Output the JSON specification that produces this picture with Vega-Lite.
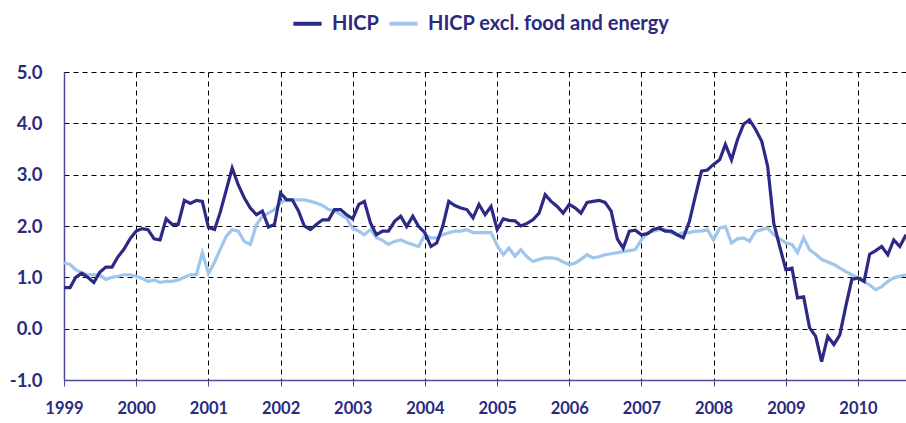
{
  "$schema": "https://vega.github.io/schema/vega-lite/v6.json",
  "width": 842,
  "height": 308,
  "autosize": {"type": "none"},
  "padding": {"left": 64, "top": 72, "right": 0, "bottom": 43},
  "background": "white",
  "config": {
    "view": {"stroke": null},
    "font": "Lato",
    "axis": {
      "labelFont": "Lato",
      "labelFontWeight": "bold",
      "labelFontSize": 16,
      "labelColor": "#2b2a7e",
      "gridColor": "#000000",
      "gridDash": [5, 4],
      "gridWidth": 1,
      "gridOpacity": 1,
      "domainColor": "#4a4aa0",
      "domainWidth": 1.5,
      "tickColor": "#4a4aa0",
      "title": null
    }
  },
  "data": {
    "values": [
      {"d":"1999-01-01","hicp":0.8,"core":1.28},{"d":"1999-02-01","hicp":0.8,"core":1.25},{"d":"1999-03-01","hicp":1.0,"core":1.15},{"d":"1999-04-01","hicp":1.08,"core":1.09},{"d":"1999-05-01","hicp":1.0,"core":1.05},{"d":"1999-06-01","hicp":0.9,"core":1.05},{"d":"1999-07-01","hicp":1.1,"core":1.05},{"d":"1999-08-01","hicp":1.2,"core":0.96},{"d":"1999-09-01","hicp":1.2,"core":1.0},{"d":"1999-10-01","hicp":1.4,"core":1.02},{"d":"1999-11-01","hicp":1.55,"core":1.05},{"d":"1999-12-01","hicp":1.75,"core":1.05},
      {"d":"2000-01-01","hicp":1.9,"core":1.02},{"d":"2000-02-01","hicp":1.95,"core":0.98},{"d":"2000-03-01","hicp":1.93,"core":0.92},{"d":"2000-04-01","hicp":1.75,"core":0.95},{"d":"2000-05-01","hicp":1.73,"core":0.9},{"d":"2000-06-01","hicp":2.14,"core":0.92},{"d":"2000-07-01","hicp":2.03,"core":0.92},{"d":"2000-08-01","hicp":2.03,"core":0.95},{"d":"2000-09-01","hicp":2.5,"core":1.0},{"d":"2000-10-01","hicp":2.44,"core":1.05},{"d":"2000-11-01","hicp":2.5,"core":1.05},{"d":"2000-12-01","hicp":2.48,"core":1.48},
      {"d":"2001-01-01","hicp":1.97,"core":1.07},{"d":"2001-02-01","hicp":1.93,"core":1.3},{"d":"2001-03-01","hicp":2.26,"core":1.54},{"d":"2001-04-01","hicp":2.7,"core":1.8},{"d":"2001-05-01","hicp":3.13,"core":1.93},{"d":"2001-06-01","hicp":2.8,"core":1.9},{"d":"2001-07-01","hicp":2.55,"core":1.7},{"d":"2001-08-01","hicp":2.35,"core":1.64},{"d":"2001-09-01","hicp":2.22,"core":2.03},{"d":"2001-10-01","hicp":2.29,"core":2.19},{"d":"2001-11-01","hicp":1.98,"core":2.25},{"d":"2001-12-01","hicp":2.03,"core":2.32},
      {"d":"2002-01-01","hicp":2.64,"core":2.45},{"d":"2002-02-01","hicp":2.51,"core":2.51},{"d":"2002-03-01","hicp":2.51,"core":2.51},{"d":"2002-04-01","hicp":2.3,"core":2.51},{"d":"2002-05-01","hicp":2.0,"core":2.51},{"d":"2002-06-01","hicp":1.93,"core":2.48},{"d":"2002-07-01","hicp":2.03,"core":2.45},{"d":"2002-08-01","hicp":2.12,"core":2.4},{"d":"2002-09-01","hicp":2.12,"core":2.32},{"d":"2002-10-01","hicp":2.32,"core":2.3},{"d":"2002-11-01","hicp":2.32,"core":2.22},{"d":"2002-12-01","hicp":2.22,"core":2.15},
      {"d":"2003-01-01","hicp":2.14,"core":1.95},{"d":"2003-02-01","hicp":2.42,"core":1.9},{"d":"2003-03-01","hicp":2.48,"core":1.83},{"d":"2003-04-01","hicp":2.06,"core":1.93},{"d":"2003-05-01","hicp":1.83,"core":1.77},{"d":"2003-06-01","hicp":1.9,"core":1.72},{"d":"2003-07-01","hicp":1.9,"core":1.64},{"d":"2003-08-01","hicp":2.09,"core":1.7},{"d":"2003-09-01","hicp":2.19,"core":1.73},{"d":"2003-10-01","hicp":1.99,"core":1.68},{"d":"2003-11-01","hicp":2.19,"core":1.64},{"d":"2003-12-01","hicp":1.99,"core":1.6},
      {"d":"2004-01-01","hicp":1.87,"core":1.83},{"d":"2004-02-01","hicp":1.6,"core":1.77},{"d":"2004-03-01","hicp":1.67,"core":1.77},{"d":"2004-04-01","hicp":2.0,"core":1.83},{"d":"2004-05-01","hicp":2.48,"core":1.87},{"d":"2004-06-01","hicp":2.4,"core":1.9},{"d":"2004-07-01","hicp":2.35,"core":1.9},{"d":"2004-08-01","hicp":2.32,"core":1.93},{"d":"2004-09-01","hicp":2.16,"core":1.87},{"d":"2004-10-01","hicp":2.42,"core":1.87},{"d":"2004-11-01","hicp":2.22,"core":1.87},{"d":"2004-12-01","hicp":2.38,"core":1.87},
      {"d":"2005-01-01","hicp":1.93,"core":1.62},{"d":"2005-02-01","hicp":2.14,"core":1.44},{"d":"2005-03-01","hicp":2.11,"core":1.57},{"d":"2005-04-01","hicp":2.1,"core":1.41},{"d":"2005-05-01","hicp":2.0,"core":1.54},{"d":"2005-06-01","hicp":2.05,"core":1.4},{"d":"2005-07-01","hicp":2.12,"core":1.31},{"d":"2005-08-01","hicp":2.25,"core":1.35},{"d":"2005-09-01","hicp":2.61,"core":1.38},{"d":"2005-10-01","hicp":2.48,"core":1.38},{"d":"2005-11-01","hicp":2.38,"core":1.36},{"d":"2005-12-01","hicp":2.25,"core":1.3},
      {"d":"2006-01-01","hicp":2.42,"core":1.25},{"d":"2006-02-01","hicp":2.35,"core":1.28},{"d":"2006-03-01","hicp":2.25,"core":1.35},{"d":"2006-04-01","hicp":2.46,"core":1.44},{"d":"2006-05-01","hicp":2.48,"core":1.38},{"d":"2006-06-01","hicp":2.5,"core":1.4},{"d":"2006-07-01","hicp":2.46,"core":1.44},{"d":"2006-08-01","hicp":2.29,"core":1.46},{"d":"2006-09-01","hicp":1.75,"core":1.48},{"d":"2006-10-01","hicp":1.57,"core":1.5},{"d":"2006-11-01","hicp":1.9,"core":1.52},{"d":"2006-12-01","hicp":1.92,"core":1.54},
      {"d":"2007-01-01","hicp":1.83,"core":1.73},{"d":"2007-02-01","hicp":1.85,"core":1.87},{"d":"2007-03-01","hicp":1.93,"core":1.9},{"d":"2007-04-01","hicp":1.96,"core":1.93},{"d":"2007-05-01","hicp":1.9,"core":1.93},{"d":"2007-06-01","hicp":1.9,"core":1.87},{"d":"2007-07-01","hicp":1.83,"core":1.83},{"d":"2007-08-01","hicp":1.77,"core":1.87},{"d":"2007-09-01","hicp":2.09,"core":1.87},{"d":"2007-10-01","hicp":2.58,"core":1.9},{"d":"2007-11-01","hicp":3.07,"core":1.9},{"d":"2007-12-01","hicp":3.09,"core":1.93},
      {"d":"2008-01-01","hicp":3.2,"core":1.73},{"d":"2008-02-01","hicp":3.29,"core":1.96},{"d":"2008-03-01","hicp":3.59,"core":1.99},{"d":"2008-04-01","hicp":3.29,"core":1.67},{"d":"2008-05-01","hicp":3.68,"core":1.75},{"d":"2008-06-01","hicp":3.98,"core":1.77},{"d":"2008-07-01","hicp":4.07,"core":1.7},{"d":"2008-08-01","hicp":3.88,"core":1.9},{"d":"2008-09-01","hicp":3.65,"core":1.93},{"d":"2008-10-01","hicp":3.16,"core":1.96},{"d":"2008-11-01","hicp":2.05,"core":1.83},{"d":"2008-12-01","hicp":1.6,"core":1.75},
      {"d":"2009-01-01","hicp":1.15,"core":1.67},{"d":"2009-02-01","hicp":1.18,"core":1.64},{"d":"2009-03-01","hicp":0.6,"core":1.48},{"d":"2009-04-01","hicp":0.62,"core":1.77},{"d":"2009-05-01","hicp":0.02,"core":1.54},{"d":"2009-06-01","hicp":-0.15,"core":1.45},{"d":"2009-07-01","hicp":-0.64,"core":1.35},{"d":"2009-08-01","hicp":-0.15,"core":1.3},{"d":"2009-09-01","hicp":-0.31,"core":1.25},{"d":"2009-10-01","hicp":-0.12,"core":1.18},{"d":"2009-11-01","hicp":0.45,"core":1.11},{"d":"2009-12-01","hicp":0.96,"core":1.05},
      {"d":"2010-01-01","hicp":0.99,"core":0.99},{"d":"2010-02-01","hicp":0.92,"core":0.92},{"d":"2010-03-01","hicp":1.45,"core":0.85},{"d":"2010-04-01","hicp":1.52,"core":0.76},{"d":"2010-05-01","hicp":1.6,"core":0.82},{"d":"2010-06-01","hicp":1.44,"core":0.92},{"d":"2010-07-01","hicp":1.73,"core":0.99},{"d":"2010-08-01","hicp":1.6,"core":1.02},{"d":"2010-09-01","hicp":1.83,"core":1.05}
    ]
  },
  "transform": [{"fold": ["hicp", "core"], "as": ["series", "value"]}],
  "encoding": {
    "x": {
      "field": "d",
      "type": "temporal",
      "scale": {"type": "utc", "domain": [{"year": 1999, "month": 1, "date": 1, "utc": true}, {"year": 2010, "month": 9, "date": 1, "utc": true}]},
      "axis": {
        "format": "%Y",
        "tickCount": {"interval": "year", "step": 1},
        "grid": true,
        "ticks": true,
        "tickSize": 6,
        "labelPadding": 14,
        "labelFontSize": 16.5,
        "labelFlush": false,
        "labelOverlap": false,
        "zindex": 0
      }
    },
    "y": {
      "field": "value",
      "type": "quantitative",
      "scale": {"domain": [-1, 5], "nice": false, "zero": false},
      "axis": {
        "values": [-1, 0, 1, 2, 3, 4, 5],
        "labelExpr": "(datum.value < 0 ? '-' : '') + format(abs(datum.value), '.1f')",
        "grid": true,
        "ticks": false,
        "labelFontSize": 18.5,
        "labelPadding": 22,
        "zindex": 0
      }
    },
    "color": {
      "field": "series",
      "type": "nominal",
      "scale": {"domain": ["hicp", "core"], "range": ["#2c2a86", "#9fc6ec"]},
      "legend": {
        "orient": "none",
        "legendX": 227,
        "legendY": -65,
        "direction": "horizontal",
        "title": null,
        "symbolType": "stroke",
        "symbolStrokeWidth": 4,
        "symbolSize": 800,
        "labelFont": "Lato",
        "labelFontWeight": "bold",
        "labelFontSize": 20,
        "labelColor": "#2b2a7e",
        "labelLimit": 400,
        "labelOffset": 8,
        "columnPadding": 2,
        "labelExpr": "datum.value == 'hicp' ? 'HICP' : 'HICP excl. food and energy'"
      }
    }
  },
  "layer": [
    {
      "transform": [{"filter": "datum.series == 'core'"}],
      "mark": {"type": "line", "strokeWidth": 3.2, "clip": true}
    },
    {
      "transform": [{"filter": "datum.series == 'hicp'"}],
      "mark": {"type": "line", "strokeWidth": 3.2, "clip": true}
    }
  ]
}
